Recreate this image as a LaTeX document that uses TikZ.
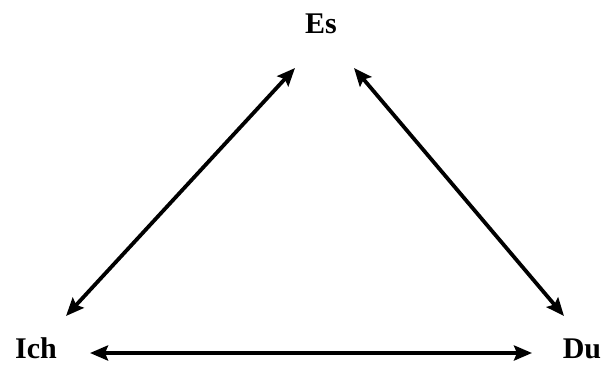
\documentclass[tikz,border=0pt]{standalone}
\usepackage{fontspec}
\setmainfont{Liberation Serif}
\usepackage{tikz}
\usetikzlibrary{arrows.meta}
\tikzset{
  prnode/.style={font=\fontsize{30}{34}\selectfont\bfseries, inner sep=0pt, anchor=base},
  prarr/.style={{Stealth[length=18pt,width=15pt,inset=3pt]}-{Stealth[length=18pt,width=15pt,inset=3pt]}, line width=3.8pt, draw=black}
}
\begin{document}
\begin{tikzpicture}[x=1pt, y=-1pt]
  \useasboundingbox (0,0) rectangle (605,365);
  \node[prnode] (es) at (321,33) {Es};
  \node[prnode] (ich) at (36,358) {Ich};
  \node[prnode] (du) at (582,358) {Du};
  \draw[prarr] ([shift={(-26,35)}]es.base) -- ([shift={(30,-42)}]ich.base);
  \draw[prarr] ([shift={(33,35)}]es.base) -- ([shift={(-18,-42)}]du.base);
  \draw[prarr] ([shift={(54,-5)}]ich.base) -- ([shift={(-50,-5)}]du.base);
\end{tikzpicture}
\end{document}
